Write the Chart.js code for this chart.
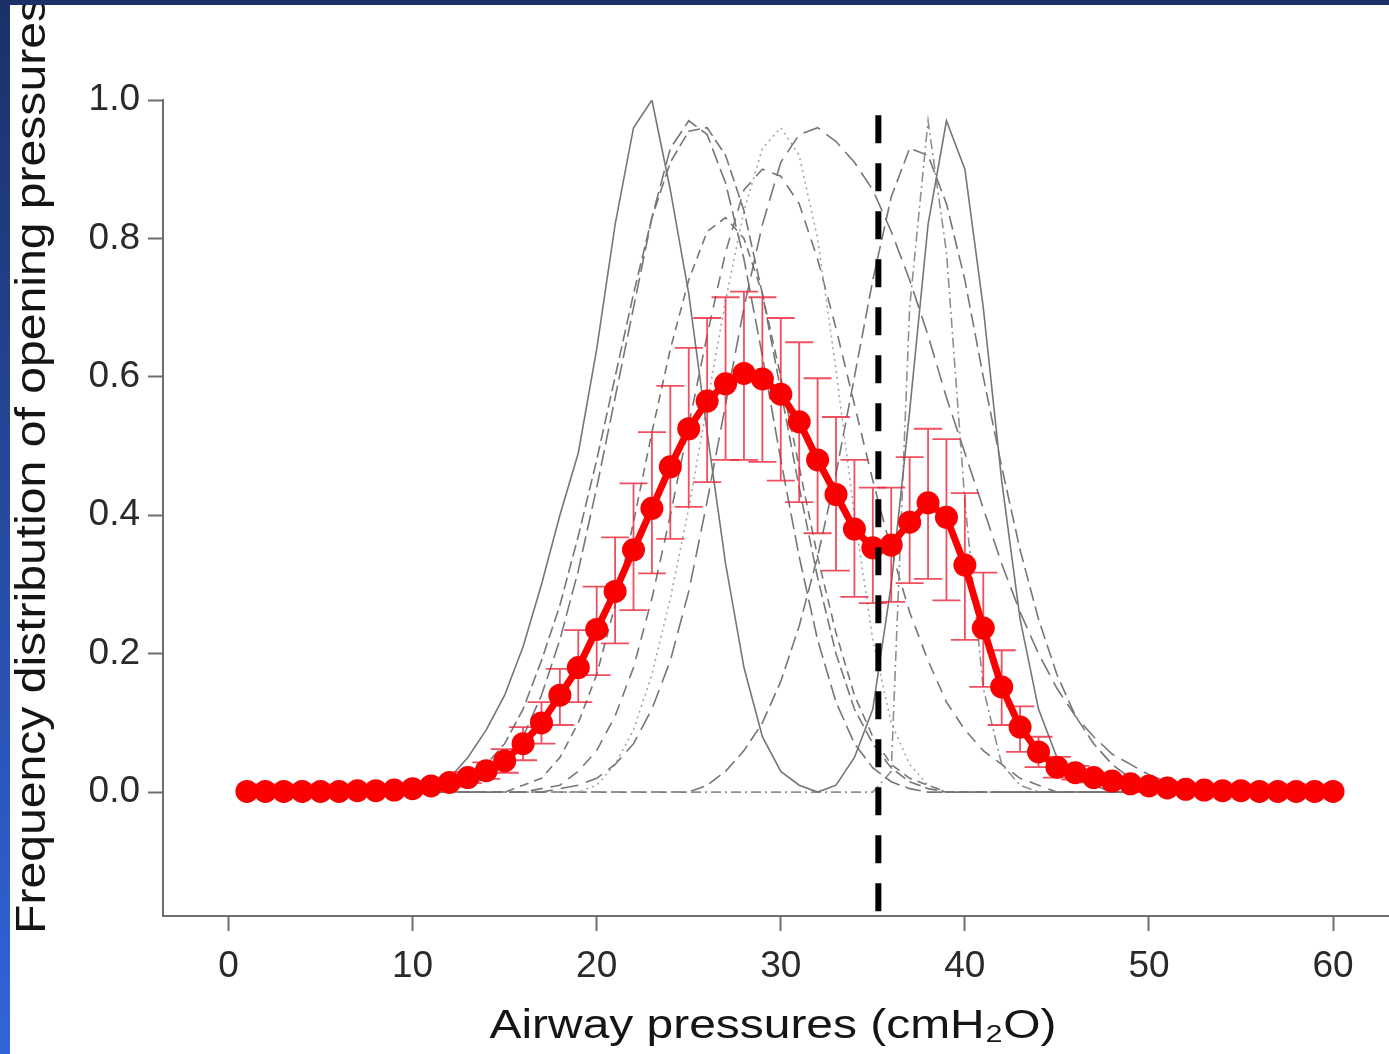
<!DOCTYPE html>
<html>
<head>
<meta charset="utf-8">
<title>Frequency distribution of opening pressures</title>
<script src="https://cdn.jsdelivr.net/npm/chart.js@4.4.1/dist/chart.umd.min.js"></script>
<style>
  html, body { margin: 0; padding: 0; }
  body {
    width: 1389px; height: 1054px; overflow: hidden;
    background: linear-gradient(to bottom, #1b3068, #3165d9);
  }
  #frame {
    position: absolute; left: 10px; top: 5px;
    width: 1379px; height: 1049px; background: #fff;
  }
  canvas { display: block; }
</style>
</head>
<body>
<div id="frame"><canvas id="chart" width="1379" height="1049"></canvas></div>

<script>
// DATA
// -----------------------------------------------------------------------------
var X_TICKS = [0, 10, 20, 30, 40, 50, 60];
var Y_TICKS = [0, 0.2, 0.4, 0.6, 0.8, 1.0];
var X_MIN = -3.56, X_MAX = 63.04;
var Y_MIN = -0.179, Y_MAX = 1.0;

// mean curve (red) with its error bars
var RED_X = [];
for (var i = 1; i <= 60; i++) RED_X.push(i);
var RED_Y = [
  0.001, 0.001, 0.001, 0.001, 0.001, 0.001, 0.002, 0.002, 0.003, 0.005,
  0.009, 0.014, 0.021, 0.031, 0.045, 0.07, 0.1, 0.14, 0.18, 0.235,
  0.29, 0.35, 0.41, 0.47, 0.525, 0.565, 0.59, 0.605, 0.597, 0.575,
  0.535, 0.48, 0.43, 0.38, 0.353, 0.357, 0.39, 0.418, 0.397, 0.328,
  0.237, 0.152, 0.094, 0.058, 0.036, 0.028, 0.021, 0.016, 0.012, 0.009,
  0.006, 0.004, 0.003, 0.002, 0.002, 0.001, 0.001, 0.001, 0.001, 0.001
];
var ERR_UP = [
  0, 0, 0, 0, 0, 0, 0, 0, 0, 0,
  0.004, 0.006, 0.008, 0.012, 0.017, 0.024, 0.03, 0.038, 0.054, 0.062,
  0.078, 0.096, 0.11, 0.117, 0.117, 0.12, 0.125, 0.118, 0.118, 0.11,
  0.115, 0.118, 0.112, 0.1, 0.087, 0.083, 0.094, 0.107, 0.113, 0.104,
  0.08, 0.053, 0.03, 0.022, 0.015, 0.01, 0.007, 0.005, 0.003, 0.002,
  0, 0, 0, 0, 0, 0, 0, 0, 0, 0
];
var ERR_DOWN = [
  0, 0, 0, 0, 0, 0, 0, 0, 0, 0,
  0.004, 0.006, 0.008, 0.012, 0.017, 0.024, 0.03, 0.043, 0.05, 0.066,
  0.075, 0.087, 0.094, 0.104, 0.113, 0.117, 0.11, 0.125, 0.12, 0.125,
  0.116, 0.106, 0.11, 0.098, 0.08, 0.082, 0.088, 0.11, 0.12, 0.108,
  0.085, 0.055, 0.036, 0.022, 0.015, 0.01, 0.007, 0.005, 0.003, 0.002,
  0, 0, 0, 0, 0, 0, 0, 0, 0, 0
];

// individual curves (gray), sampled at 11..51
var GRAY_X = [];
for (var j = 11; j <= 51; j++) GRAY_X.push(j);
var CURVE_1 = [0, 0.02, 0.05, 0.09, 0.14, 0.21, 0.3, 0.4, 0.49, 0.64,
  0.82, 0.96, 1.0, 0.87, 0.72, 0.52, 0.33, 0.18, 0.08, 0.03,
  0.01, 0, 0.01, 0.05, 0.12, 0.3, 0.55, 0.82, 0.97, 0.9,
  0.7, 0.45, 0.25, 0.12, 0.05, 0.02, 0.01, 0, 0, 0, 0];
var CURVE_2 = [0, 0.005, 0.01, 0.02, 0.04, 0.08, 0.14, 0.22, 0.32, 0.44,
  0.57, 0.7, 0.83, 0.93, 0.97, 0.95, 0.88, 0.77, 0.63, 0.48,
  0.34, 0.22, 0.13, 0.07, 0.035, 0.015, 0.005, 0, 0, 0,
  0, 0, 0, 0, 0, 0, 0, 0, 0, 0, 0];
var CURVE_3 = [0.005, 0.01, 0.02, 0.04, 0.07, 0.12, 0.19, 0.27, 0.37, 0.48,
  0.6, 0.72, 0.83, 0.91, 0.955, 0.96, 0.92, 0.84, 0.72, 0.58,
  0.44, 0.31, 0.2, 0.12, 0.07, 0.035, 0.015, 0.005, 0, 0,
  0, 0, 0, 0, 0, 0, 0, 0, 0, 0, 0];
var CURVE_4 = [0, 0, 0, 0, 0, 0, 0, 0.005, 0.01, 0.02,
  0.04, 0.07, 0.12, 0.19, 0.29, 0.42, 0.56, 0.7, 0.82, 0.91,
  0.95, 0.96, 0.94, 0.91, 0.87, 0.81, 0.74, 0.66, 0.57, 0.49,
  0.41, 0.33, 0.26, 0.2, 0.15, 0.11, 0.08, 0.055, 0.04, 0.025, 0.015];
var CURVE_5 = [0, 0, 0, 0, 0, 0.01, 0.02, 0.05, 0.1, 0.17,
  0.27, 0.39, 0.52, 0.64, 0.74, 0.81, 0.83, 0.8, 0.72, 0.6,
  0.47, 0.34, 0.23, 0.14, 0.08, 0.04, 0.02, 0.01, 0, 0,
  0, 0, 0, 0, 0, 0, 0, 0, 0, 0, 0];
var CURVE_6 = [0, 0, 0, 0, 0, 0, 0, 0, 0, 0.01,
  0.04, 0.09, 0.17, 0.28, 0.41, 0.56, 0.71, 0.84, 0.93, 0.96,
  0.92, 0.8, 0.61, 0.4, 0.22, 0.1, 0.04, 0.01, 0, 0,
  0, 0, 0, 0, 0, 0, 0, 0, 0, 0, 0];
var CURVE_7 = [0, 0, 0, 0, 0, 0, 0, 0, 0, 0,
  0, 0, 0, 0, 0, 0, 0, 0, 0, 0,
  0, 0, 0, 0, 0, 0.03, 0.7, 0.97, 0.78, 0.42,
  0.15, 0.04, 0.01, 0, 0, 0, 0, 0, 0, 0, 0];
var CURVE_8 = [0, 0, 0, 0, 0, 0, 0.005, 0.01, 0.03, 0.06,
  0.11, 0.18, 0.28, 0.4, 0.53, 0.66, 0.78, 0.87, 0.9, 0.89,
  0.85, 0.77, 0.67, 0.56, 0.45, 0.35, 0.26, 0.19, 0.13, 0.09,
  0.06, 0.04, 0.02, 0.01, 0, 0, 0, 0, 0, 0, 0];
var CURVE_9 = [0, 0, 0, 0, 0, 0, 0, 0, 0, 0,
  0, 0, 0, 0, 0, 0.01, 0.03, 0.06, 0.1, 0.16,
  0.24, 0.34, 0.46, 0.6, 0.74, 0.86, 0.93, 0.92, 0.85, 0.74,
  0.6, 0.47, 0.35, 0.25, 0.17, 0.11, 0.07, 0.04, 0.02, 0.01, 0];

// threshold (vertical dashed line)
var THRESHOLD = 35.3;
var THRESHOLD_TOP = 0.978;

var Y_TITLE = 'Frequency distribution of opening pressures';
var X_TITLE = 'Airway pressures (cmH\u2082O)';

// HELPERS
// -----------------------------------------------------------------------------
function toPoints(xs, ys) {
  return xs.map(function(x, k) { return { x: x, y: ys[k] }; });
}

function grayCurve(values, dash, color) {
  return {
    label: 'curve',
    data: toPoints(GRAY_X, values),
    borderColor: color || '#767676',
    borderWidth: 1.6,
    borderDash: dash,
    pointRadius: 0,
    tension: 0,
    order: 5
  };
}

// PLUGINS
// -----------------------------------------------------------------------------
var errorBars = {
  id: 'errorBars',
  beforeDatasetDraw: function(chart, args) {
    if (chart.data.datasets[args.index].label !== 'mean') return;
    var ctx = chart.ctx;
    var xs = chart.scales.x, ys = chart.scales.y;
    var cap = 14;
    ctx.save();
    ctx.strokeStyle = 'rgba(235, 35, 55, 0.8)';
    ctx.lineWidth = 1.8;
    for (var k = 0; k < RED_X.length; k++) {
      if (!ERR_UP[k] && !ERR_DOWN[k]) continue;
      var px = xs.getPixelForValue(RED_X[k]);
      var top = ys.getPixelForValue(RED_Y[k] + ERR_UP[k]);
      var bot = ys.getPixelForValue(RED_Y[k] - ERR_DOWN[k]);
      ctx.beginPath();
      ctx.moveTo(px, top); ctx.lineTo(px, bot);
      ctx.moveTo(px - cap, top); ctx.lineTo(px + cap, top);
      ctx.moveTo(px - cap, bot); ctx.lineTo(px + cap, bot);
      ctx.stroke();
    }
    ctx.restore();
  }
};

// axis titles, widened a little like the original figure
var axisTitles = {
  id: 'axisTitles',
  afterDraw: function(chart) {
    var ctx = chart.ctx;
    ctx.save();
    ctx.fillStyle = '#151515';
    ctx.textAlign = 'center';
    ctx.textBaseline = 'middle';

    ctx.font = '41px "Liberation Sans", Arial, sans-serif';
    var wx = ctx.measureText(X_TITLE).width;
    ctx.save();
    ctx.translate(763, 1022);
    ctx.scale(567 / wx, 1);
    ctx.fillText(X_TITLE, 0, 0);
    ctx.restore();

    ctx.font = '42px "Liberation Sans", Arial, sans-serif';
    var wy = ctx.measureText(Y_TITLE).width;
    ctx.save();
    ctx.translate(23, 461);
    ctx.rotate(-Math.PI / 2);
    ctx.scale(936 / wy, 1);
    ctx.fillText(Y_TITLE, 0, 0);
    ctx.restore();

    ctx.restore();
  }
};

// CHART
// -----------------------------------------------------------------------------
var tickFont = { family: '"Liberation Sans", Arial, sans-serif', size: 37 };

var chart = new Chart(document.getElementById('chart'), {
  type: 'line',
  data: {
    datasets: [
      {
        label: 'threshold',
        data: [{ x: THRESHOLD, y: THRESHOLD_TOP }, { x: THRESHOLD, y: Y_MIN }],
        borderColor: '#000',
        borderWidth: 6,
        borderDash: [28, 20],
        pointRadius: 0,
        order: 0
      },
      {
        label: 'mean',
        data: toPoints(RED_X, RED_Y),
        borderColor: 'rgb(250, 0, 0)',
        backgroundColor: 'rgb(250, 0, 0)',
        borderWidth: 7,
        pointRadius: 11.5,
        pointBorderWidth: 0,
        tension: 0,
        clip: false,
        order: 1
      },
      grayCurve(CURVE_1, []),
      grayCurve(CURVE_2, [16, 6]),
      grayCurve(CURVE_3, [12, 5]),
      grayCurve(CURVE_4, [18, 8]),
      grayCurve(CURVE_5, [9, 6]),
      grayCurve(CURVE_6, [2, 4], '#a5a5a5'),
      grayCurve(CURVE_7, [10, 4, 2, 4], '#8f8f8f'),
      grayCurve(CURVE_8, [12, 8]),
      grayCurve(CURVE_9, [14, 6])
    ]
  },
  options: {
    responsive: false,
    animation: false,
    devicePixelRatio: 1,
    layout: { autoPadding: false, padding: { top: 95, left: 0, right: 0, bottom: 0 } },
    plugins: {
      legend: { display: false },
      tooltip: { enabled: false }
    },
    scales: {
      x: {
        type: 'linear',
        min: X_MIN,
        max: X_MAX,
        afterBuildTicks: function(s) { s.ticks = X_TICKS.map(function(v) { return { value: v }; }); },
        afterFit: function(s) { s.height = 138; s.paddingLeft = 0; s.paddingRight = 0; },
        grid: { drawOnChartArea: false, drawTicks: true, tickLength: 15, tickColor: '#6e6e6e', tickWidth: 2 },
        border: { display: true, color: '#6e6e6e', width: 2 },
        ticks: { font: tickFont, color: '#2a2a2a', padding: 14, maxRotation: 0 }
      },
      y: {
        type: 'linear',
        min: Y_MIN,
        max: Y_MAX,
        afterBuildTicks: function(s) { s.ticks = Y_TICKS.map(function(v) { return { value: v }; }); },
        afterFit: function(s) { s.width = 153; },
        grid: { drawOnChartArea: false, drawTicks: true, tickLength: 15, tickColor: '#6e6e6e', tickWidth: 2 },
        border: { display: true, color: '#6e6e6e', width: 2 },
        ticks: {
          font: tickFont, color: '#2a2a2a', padding: 8,
          callback: function(v) { return Number(v).toFixed(1); }
        }
      }
    }
  },
  plugins: [errorBars, axisTitles]
});
</script>
</body>
</html>
